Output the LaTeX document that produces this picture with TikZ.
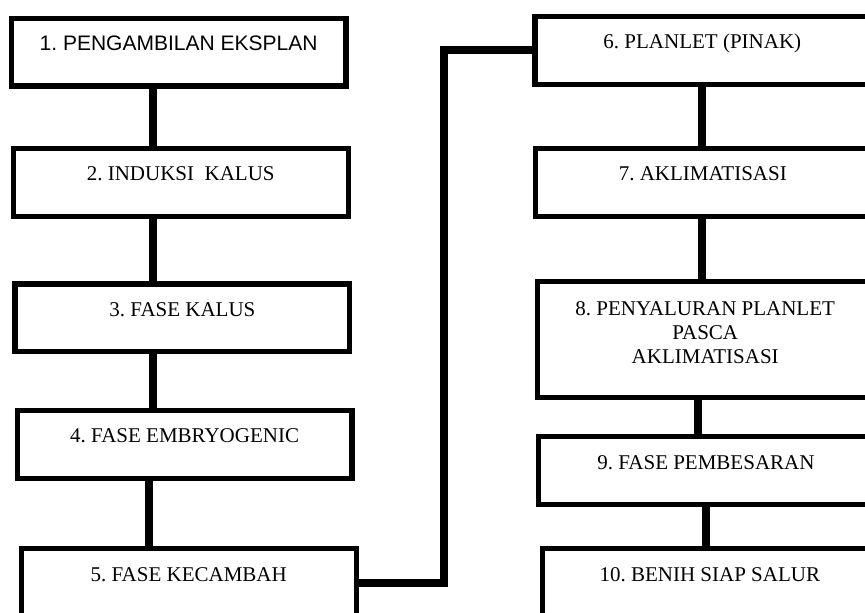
\documentclass[tikz,border=0pt]{standalone}
\usepackage{fontspec}
\setmainfont{Liberation Serif}
\newfontfamily\arialfont{Liberation Sans}
\usepackage{tikz}
\usetikzlibrary{positioning}

\begin{document}
\begin{tikzpicture}[
    boxbase/.style={rectangle, draw=black, line width=2.6pt, minimum width=167.4pt, inner sep=0pt, font=\fontsize{10.5}{12.15}\selectfont\frenchspacing},
    stagenode/.style={boxbase, minimum height=33.9pt, text height=8pt, text depth=9.5pt},
    tallnode/.style={boxbase, minimum height=57.75pt, text height=28pt, text depth=3.7pt, align=center},
    linkline/.style={line width=4pt},
]
\useasboundingbox (0,0) rectangle (432.5pt,-306.5pt);
\clip (0,0) rectangle (432.5pt,-306.5pt);
\node[stagenode](P1) at (89.3pt,-26.1pt){\arialfont 1. PENGAMBILAN EKSPLAN};
\node[stagenode](P2)[below = 28.55pt of P1, xshift=1.05pt]{2. INDUKSI\ \ KALUS};
\node[stagenode](P3)[below = 31.35pt of P2, xshift=0.85pt]{3. FASE KALUS};
\node[stagenode](P4)[below = 26.65pt of P3, xshift=1.1pt]{4. FASE EMBRYOGENIC};
\node[stagenode](P5)[below = 32.6pt of P4, xshift=2.05pt]{5. FASE KECAMBAH};
\node[stagenode](P6)[right = 91.85pt of P1, yshift=0.9pt]{6. PLANLET (PINAK)};
\node[stagenode](P7)[below = 29.45pt of P6, xshift=0.25pt]{7. AKLIMATISASI};
\node[tallnode](P8)[below = 30.25pt of P7, xshift=1.2pt]{8. PENYALURAN PLANLET\\PASCA\\AKLIMATISASI};
\node[stagenode](P9)[below = 17pt of P8, xshift=0.35pt]{9. FASE PEMBESARAN};
\node[stagenode](P10)[below = 19.5pt of P9, xshift=1.95pt]{10. BENIH SIAP SALUR};
\draw[linkline] ([xshift=-13.05pt]P1.south) -- ([xshift=-13.05pt]P1.south |- P2.north);
\draw[linkline] ([xshift=-14.1pt]P2.south) -- ([xshift=-14.1pt]P2.south |- P3.north);
\draw[linkline] ([xshift=-14.7pt]P3.south) -- ([xshift=-14.7pt]P3.south |- P4.north);
\draw[linkline] ([xshift=-18.05pt]P4.south) -- ([xshift=-18.05pt]P4.south |- P5.north);
\draw[linkline] (P5.east) -- ++(42.7pt,0) |- (P6.west);
\draw[linkline] (P6.south) -- (P6.south |- P7.north);
\draw[linkline] ([xshift=-0.25pt]P7.south) -- ([xshift=-0.25pt]P7.south |- P8.north);
\draw[linkline] ([xshift=-3.55pt]P8.south) -- ([xshift=-3.55pt]P8.south |- P9.north);
\draw[linkline] ([xshift=0.1pt]P9.south) -- ([xshift=0.1pt]P9.south |- P10.north);
\end{tikzpicture}
\end{document}
